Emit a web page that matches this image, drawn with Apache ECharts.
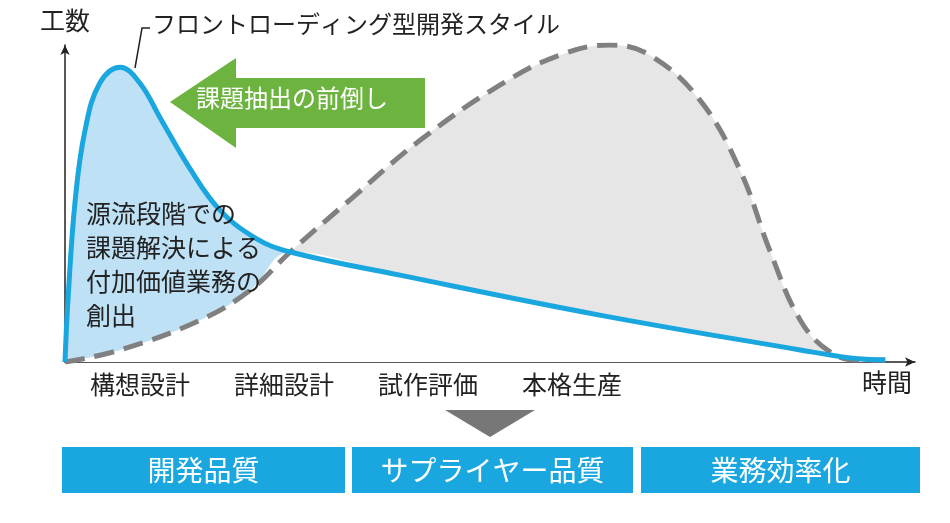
<!DOCTYPE html>
<html><head><meta charset="utf-8">
<script src="https://cdn.jsdelivr.net/npm/echarts@6/dist/echarts.min.js"></script>
<style>html,body{margin:0;background:#fff}#c{width:950px;height:523px}</style></head>
<body><div id="c"></div>
<script>
const phases = ['構想設計','詳細設計','試作評価','本格生産'];
const frontLoading = [[0,0],[0.35,19.6],[1.2,51],[2.35,73],[4.1,88],[6.5,93],[8.8,88],[11.2,77],[14.7,61],[18.2,48],[22.4,39.1],[26.5,34.7],[39.4,27.4],[62.9,14.8],[86.5,3.8],[92.4,1.3],[96.5,0.6]];
const conventional = [[0,0],[6.5,3.8],[15.9,13.2],[21.8,22.7],[26.5,34.7],[33.5,51.1],[41.8,70],[51.2,87.4],[58.2,96.8],[64.1,100],[68.8,96.8],[74.7,82.6],[79.4,60.6],[82.9,35.3],[86.5,13.2],[90,3.2],[93.5,0.6],[96.5,0.6]];
const boxes = ['開発品質','サプライヤー品質','業務効率化'];
const F = '"Noto Sans CJK JP", sans-serif';
const chart = echarts.init(document.getElementById('c'));
const blue = '#1aa7e0';
const boxW = [[62,283],[352,281],[641,279]];
const cross = 26.5;
const frontArea = frontLoading.filter(p=>p[0]<=cross);
const lower = conventional.filter(p=>p[0]<cross).concat(frontLoading.filter(p=>p[0]>=cross));
chart.setOption({
  animation:false,
  textStyle:{fontFamily:F},
  grid:[{left:65,right:35,top:45,bottom:161},{left:68,width:576,top:45,bottom:161}],
  xAxis:[{type:'value',min:0,max:100,gridIndex:0,splitLine:{show:false},axisTick:{show:false},axisLabel:{show:false},
    axisLine:{lineStyle:{color:'#222',width:1.5},symbol:['none','arrow'],symbolSize:[7,10]}},
    {type:'category',gridIndex:1,data:phases,axisLine:{show:false},axisTick:{show:false},
    axisLabel:{fontSize:25,color:'#222',margin:10,fontFamily:F}}],
  yAxis:[{type:'value',min:0,max:100,gridIndex:0,splitLine:{show:false},axisTick:{show:false},axisLabel:{show:false},
    axisLine:{show:true,lineStyle:{color:'#222',width:1.5},symbol:['none','arrow'],symbolSize:[7,10]},
    name:'工数',nameLocation:'end',nameGap:12,nameTextStyle:{fontSize:25,color:'#222',align:'center'}},
    {type:'value',gridIndex:1,show:false}],
  series:[
    {type:'line',data:conventional,smooth:0.4,symbol:'none',z:2,lineStyle:{width:0},areaStyle:{color:'#e6e6e6',opacity:1}},
    {type:'line',data:frontArea,smooth:0.4,symbol:'none',z:3,lineStyle:{width:0},areaStyle:{color:'#bfe1f5',opacity:1}},
    {type:'line',data:lower,smooth:0.4,symbol:'none',z:4,lineStyle:{width:0},areaStyle:{color:'#fff',opacity:1}},
    {type:'line',data:conventional,smooth:0.4,symbol:'none',z:5,lineStyle:{color:'#808080',width:5,type:[20,10]}},
    {type:'line',data:frontLoading,smooth:0.4,symbol:'none',z:6,lineStyle:{color:blue,width:5}}
  ],
  graphic:[
    {type:'text',left:862,top:370,style:{text:'時間',font:'25px '+F,fill:'#222'},z:10},
    {type:'polyline',shape:{points:[[135,68],[142,28],[150,28]]},style:{stroke:'#222',lineWidth:1.5,fill:null},z:10},
    {type:'text',left:152,top:12,style:{text:'フロントローディング型開発スタイル',font:'24px '+F,fill:'#222'},z:10},
    {type:'polygon',shape:{points:[[170,102],[236,58],[236,78],[425,78],[425,128],[236,128],[236,148]]},style:{fill:'#6cb33f'},z:10},
    {type:'text',left:196,top:86,style:{text:'課題抽出の前倒し',font:'24px '+F,fill:'#fff'},z:11},
    {type:'text',left:86,top:196,style:{text:'源流段階での\n課題解決による\n付加価値業務の\n創出',font:'25px '+F,fill:'#222',lineHeight:34},z:11},
    {type:'polygon',shape:{points:[[445,410],[535,410],[490,437]]},style:{fill:'#777'},z:10},
    ...boxes.map((t,i)=>({type:'group',left:boxW[i][0],top:447,children:[
      {type:'rect',shape:{x:0,y:0,width:boxW[i][1],height:46},style:{fill:blue}},
      {type:'text',style:{text:t,x:boxW[i][1]/2,y:23,align:'center',verticalAlign:'middle',font:'28px '+F,fill:'#fff'}}
    ]}))
  ]
});
</script></body></html>
